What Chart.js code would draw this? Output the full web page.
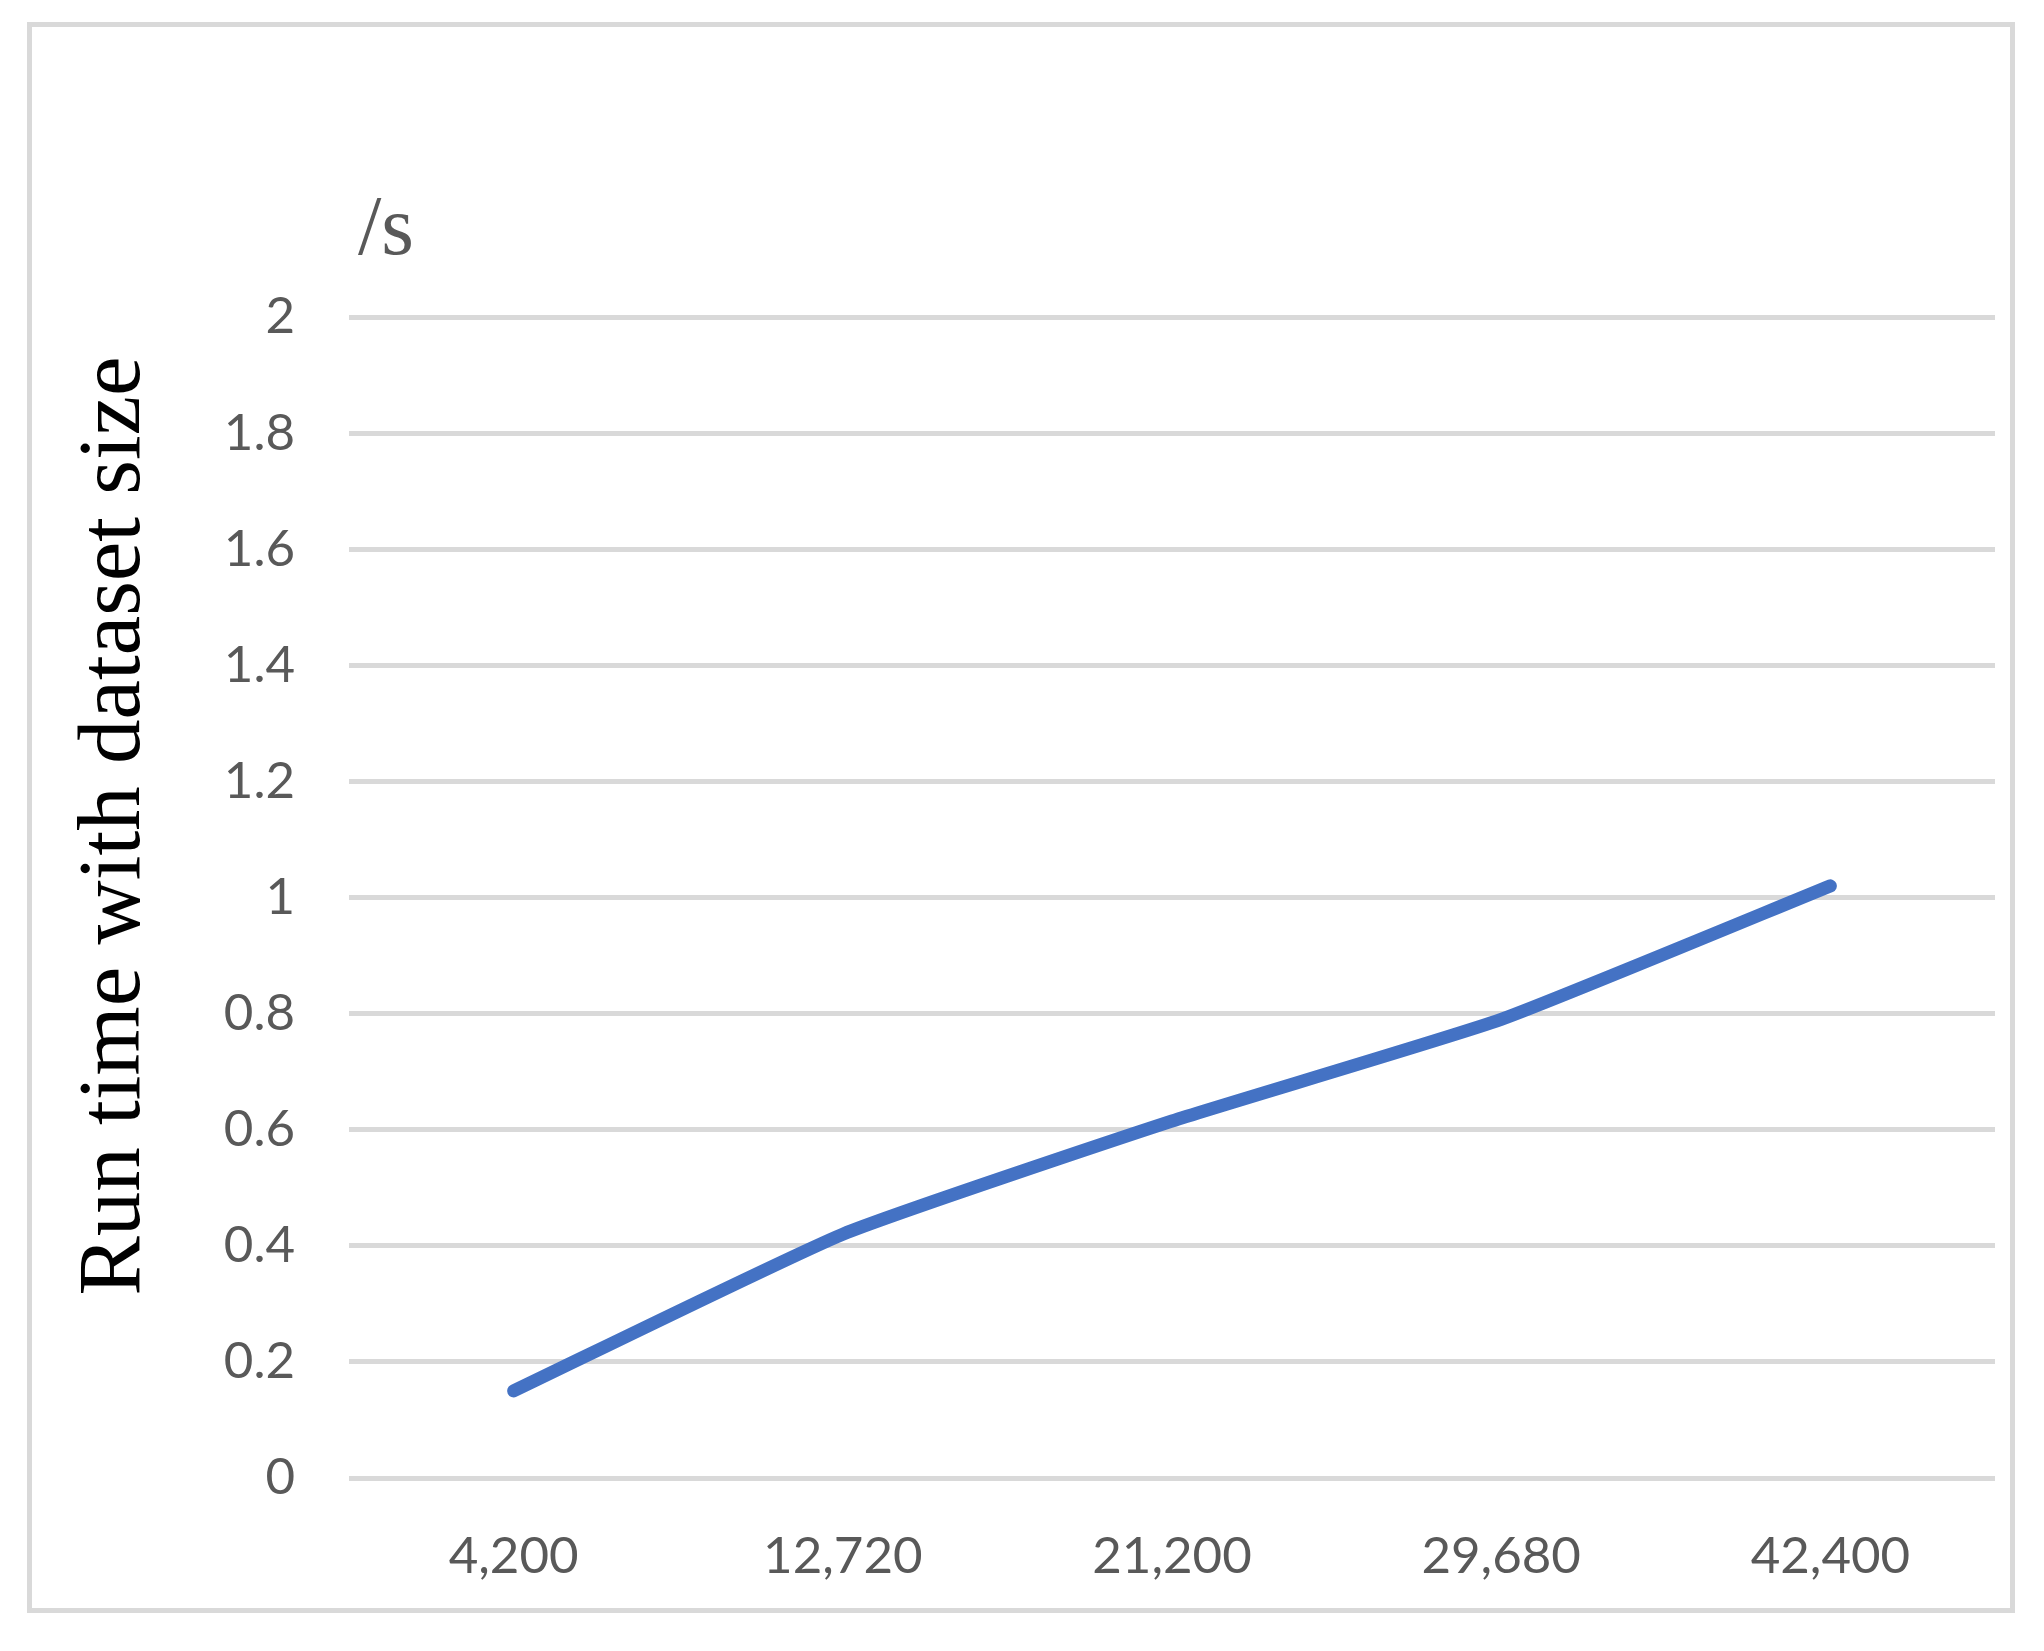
<!DOCTYPE html>
<html>
<head>
<meta charset="utf-8">
<script src="https://cdn.jsdelivr.net/npm/chart.js@4.4.0/dist/chart.umd.min.js"></script>
<style>
  html, body { margin: 0; padding: 0; background: #ffffff; }
  #wrap { width: 2044px; height: 1651px; position: relative; }
  canvas { display: block; }
</style>
</head>
<body>
<div id="wrap"><canvas id="c" width="2044" height="1651"></canvas></div>
<script>
// ---- data ----
const categories = ['4,200', '12,720', '21,200', '29,680', '42,400'];
const runTime = [0.15, 0.42, 0.615, 0.79, 1.02];
const yTickLabels = ['0', '0.2', '0.4', '0.6', '0.8', '1', '1.2', '1.4', '1.6', '1.8', '2'];
const yTitle = 'Run time with dataset size';
const unitLabel = '/s';

const decor = {
  id: 'decor',
  beforeDraw(chart) {
    const ctx = chart.ctx;
    ctx.save();
    ctx.fillStyle = '#ffffff';
    ctx.fillRect(0, 0, chart.width, chart.height);
    ctx.strokeStyle = '#d9d9d9';
    ctx.lineWidth = 5;
    ctx.strokeRect(29.5, 24.5, 1983, 1586);
    ctx.restore();
  },
  afterDraw(chart) {
    const ctx = chart.ctx;
    ctx.save();
    ctx.fillStyle = '#000000';
    ctx.font = '89px "Liberation Serif", serif';
    ctx.textAlign = 'center';
    ctx.textBaseline = 'middle';
    ctx.translate(116, 826);
    ctx.rotate(-Math.PI / 2);
    ctx.fillText(yTitle, 0, 0);
    ctx.restore();
    ctx.save();
    ctx.fillStyle = '#595959';
    ctx.font = '84px "Liberation Serif", serif';
    ctx.textAlign = 'left';
    ctx.textBaseline = 'alphabetic';
    ctx.fillText(unitLabel, 358, 254);
    ctx.restore();
  }
};

new Chart(document.getElementById('c'), {
  type: 'line',
  data: {
    labels: categories,
    datasets: [{
      data: runTime,
      borderColor: '#4472C4',
      borderWidth: 13,
      borderCapStyle: 'round',
      borderJoinStyle: 'round',
      pointRadius: 0,
      pointHoverRadius: 0,
      tension: 0.15,
      fill: false
    }]
  },
  options: {
    responsive: false,
    animation: false,
    devicePixelRatio: 1,
    layout: { padding: { top: 317, right: 49, bottom: 0, left: 0 } },
    plugins: { legend: { display: false }, tooltip: { enabled: false }, title: { display: false } },
    scales: {
      x: {
        type: 'category',
        offset: true,
        grid: { display: false, drawTicks: false },
        border: { display: false },
        ticks: {
          color: '#595959',
          font: { family: 'Lato', size: 51 },
          padding: 48,
          maxRotation: 0,
          autoSkip: false
        },
        afterFit(scale) { scale.height = 1651 - 1478; }
      },
      y: {
        min: 0,
        max: 2,
        grid: { color: '#d9d9d9', lineWidth: 5, drawTicks: false },
        border: { display: false },
        ticks: {
          stepSize: 0.2,
          color: '#595959',
          font: { family: 'Lato', size: 51 },
          padding: 54,
          callback(value, index) { return yTickLabels[index]; }
        },
        afterFit(scale) { scale.width = 349; }
      }
    }
  },
  plugins: [decor]
});
</script>
</body>
</html>
